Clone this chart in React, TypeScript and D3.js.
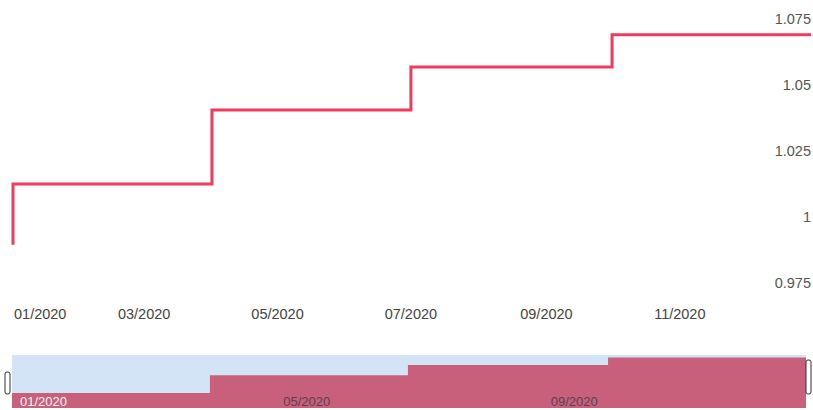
import React from "react";
import * as d3 from "d3";

const dates = ["2020-01-01", "2020-01-01", "2020-04-01", "2020-07-01", "2020-10-01", "2020-12-31"];
const values = [0.9895, 1.0125, 1.0405, 1.0568, 1.069, 1.069];
const yTicks = [0.975, 1, 1.025, 1.05, 1.075];
const yTickLabels = ["0.975", "1", "1.025", "1.05", "1.075"];
const xTickDates = ["2020-01-01", "2020-03-01", "2020-05-01", "2020-07-01", "2020-09-01", "2020-11-01"];
const xTickLabels = ["01/2020", "03/2020", "05/2020", "07/2020", "09/2020", "11/2020"];
const navTickDates = ["2020-01-01", "2020-05-01", "2020-09-01"];
const navTickLabels = ["01/2020", "05/2020", "09/2020"];

const W = 813;
const H = 410;
const parse = d3.timeParse("%Y-%m-%d");

export default function App() {
  const data = dates.map((d, i) => ({ date: parse(d) as Date, value: values[i] }));
  const domainX: [Date, Date] = [parse("2020-01-01") as Date, parse("2020-12-31") as Date];

  const x = d3.scaleTime().domain(domainX).range([13, 811]);
  const y = d3.scaleLinear().domain([0.975, 1.075]).range([283, 19]);

  const line = d3
    .line<{ date: Date; value: number }>()
    .x((d) => x(d.date))
    .y((d) => y(d.value))
    .curve(d3.curveStepAfter);

  const nx = d3.scaleTime().domain(domainX).range([12, 806]);
  const ny = d3.scaleLinear().domain([0.9887, 1.0728]).range([408, 355]);
  const area = d3
    .area<{ date: Date; value: number }>()
    .x((d) => nx(d.date))
    .y0(408)
    .y1((d) => ny(d.value))
    .curve(d3.curveStepAfter);

  const font = "Arial, 'Liberation Sans', sans-serif";

  return (
    <svg
      width={W}
      height={H}
      style={{ position: "absolute", left: 0, top: 0, background: "#fff" }}
      fontFamily={font}
    >
      <path d={line(data) || ""} fill="none" stroke="#ef3b5d" strokeWidth={3} />

      {yTicks.map((t, i) => (
        <text key={i} x={811} y={y(t)} dy="0.35em" textAnchor="end" fontSize={14.5} fill="#555">
          {yTickLabels[i]}
        </text>
      ))}

      {xTickDates.map((d, i) => {
        const px = x(parse(d) as Date);
        return (
          <text
            key={i}
            x={i === 0 ? px + 1 : px}
            y={319}
            textAnchor={i === 0 ? "start" : "middle"}
            fontSize={14.5}
            fill="#444"
          >
            {xTickLabels[i]}
          </text>
        );
      })}

      <rect x={12} y={355} width={794} height={53} fill="#d2e4f6" />
      <path d={area(data) || ""} fill="#c8607c" />
      {navTickDates.map((d, i) => (
        <text
          key={i}
          x={nx(parse(d) as Date) + 8}
          y={406}
          fontSize={13}
          fill={i === 0 ? "#f4f4f4" : "#5e3f4a"}
        >
          {navTickLabels[i]}
        </text>
      ))}
      <rect x={5} y={372} width={5} height={22} rx={2} fill="#fff" stroke="#333" strokeWidth={1} />
      <rect x={806} y={360} width={5} height={34} rx={2} fill="#fff" stroke="#333" strokeWidth={1} />
    </svg>
  );
}
